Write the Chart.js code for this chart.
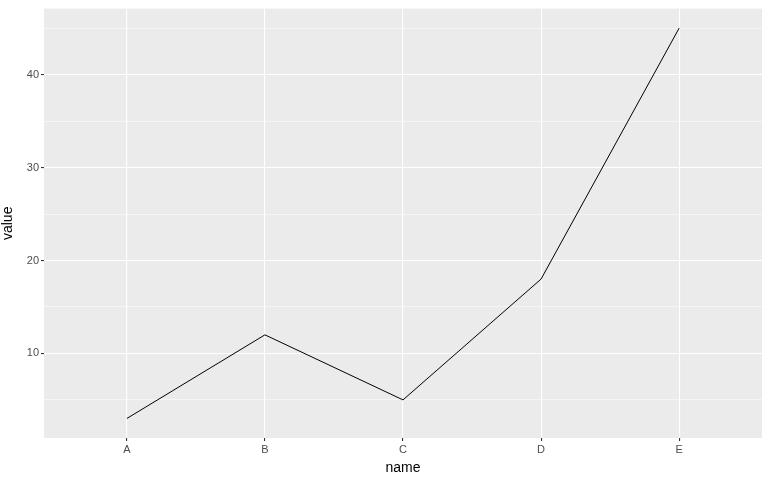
<!DOCTYPE html>
<html>
<head>
<meta charset="utf-8">
<script src="https://cdn.jsdelivr.net/npm/chart.js@4"></script>
<style>
  body { margin: 0; background: #ffffff; }
  #wrap { width: 768px; height: 481px; }
</style>
</head>
<body>
<div id="wrap"><canvas id="myChart" width="768" height="481"></canvas></div>
<script>
  const names = ['A', 'B', 'C', 'D', 'E'];
  const values = [3, 12, 5, 18, 45];
  const yTicks = [5, 10, 15, 20, 25, 30, 35, 40, 45];
  const yLabels = [10, 20, 30, 40];

  // grey panel behind the plot, like ggplot's theme_grey
  const panelBg = {
    id: 'panelBg',
    beforeDraw(chart) {
      const a = chart.chartArea;
      const ctx = chart.ctx;
      ctx.save();
      ctx.fillStyle = '#EBEBEB';
      ctx.fillRect(a.left, a.top, a.right - a.left, a.bottom - a.top);
      ctx.restore();
    }
  };

  const data = {
    datasets: [{
      label: 'value',
      data: names.map((n, i) => ({ x: i, y: values[i] })),
      borderColor: '#000000',
      borderWidth: 1,
      pointRadius: 0,
      tension: 0,
      fill: false
    }]
  };

  const config = {
    type: 'line',
    data: data,
    options: {
      responsive: false,
      animation: false,
      layout: { padding: { top: 5, right: 6, left: 0, bottom: 0 } },
      plugins: { legend: { display: false }, tooltip: { enabled: false } },
      scales: {
        x: {
          type: 'linear',
          min: -0.6,
          max: names.length - 1 + 0.6,
          afterBuildTicks: s => { s.ticks = names.map((n, i) => ({ value: i })); },
          afterFit: s => { s.height = 43; },
          border: { display: false },
          grid: {
            color: '#FFFFFF',
            lineWidth: 1.1,
            drawTicks: true,
            tickLength: 3,
            tickColor: '#333333'
          },
          ticks: {
            callback: v => names[v],
            color: '#4D4D4D',
            font: { family: 'Liberation Sans', size: 11 },
            padding: 2,
            maxRotation: 0
          },
          title: {
            display: true,
            text: 'name',
            color: '#000000',
            font: { family: 'Liberation Sans', size: 14 },
            padding: { top: 0, bottom: 4 }
          }
        },
        y: {
          type: 'linear',
          min: 0.9,
          max: 47.1,
          afterBuildTicks: s => { s.ticks = yTicks.map(v => ({ value: v })); },
          afterFit: s => { s.width = 44; },
          border: { display: false },
          grid: {
            color: '#FFFFFF',
            lineWidth: c => (yLabels.includes(c.tick.value) ? 1.1 : 0.5),
            drawTicks: true,
            tickLength: 3,
            tickColor: c => (yLabels.includes(c.tick.value) ? '#333333' : 'rgba(0,0,0,0)')
          },
          ticks: {
            callback: v => (yLabels.includes(v) ? String(v) : ''),
            color: '#4D4D4D',
            font: { family: 'Liberation Sans', size: 11 },
            padding: 2
          },
          title: {
            display: true,
            text: 'value',
            color: '#000000',
            font: { family: 'Liberation Sans', size: 14 },
            padding: { top: 0, bottom: 2 }
          }
        }
      }
    },
    plugins: [panelBg]
  };

  const myChart = new Chart(document.getElementById('myChart'), config);
</script>
</body>
</html>
